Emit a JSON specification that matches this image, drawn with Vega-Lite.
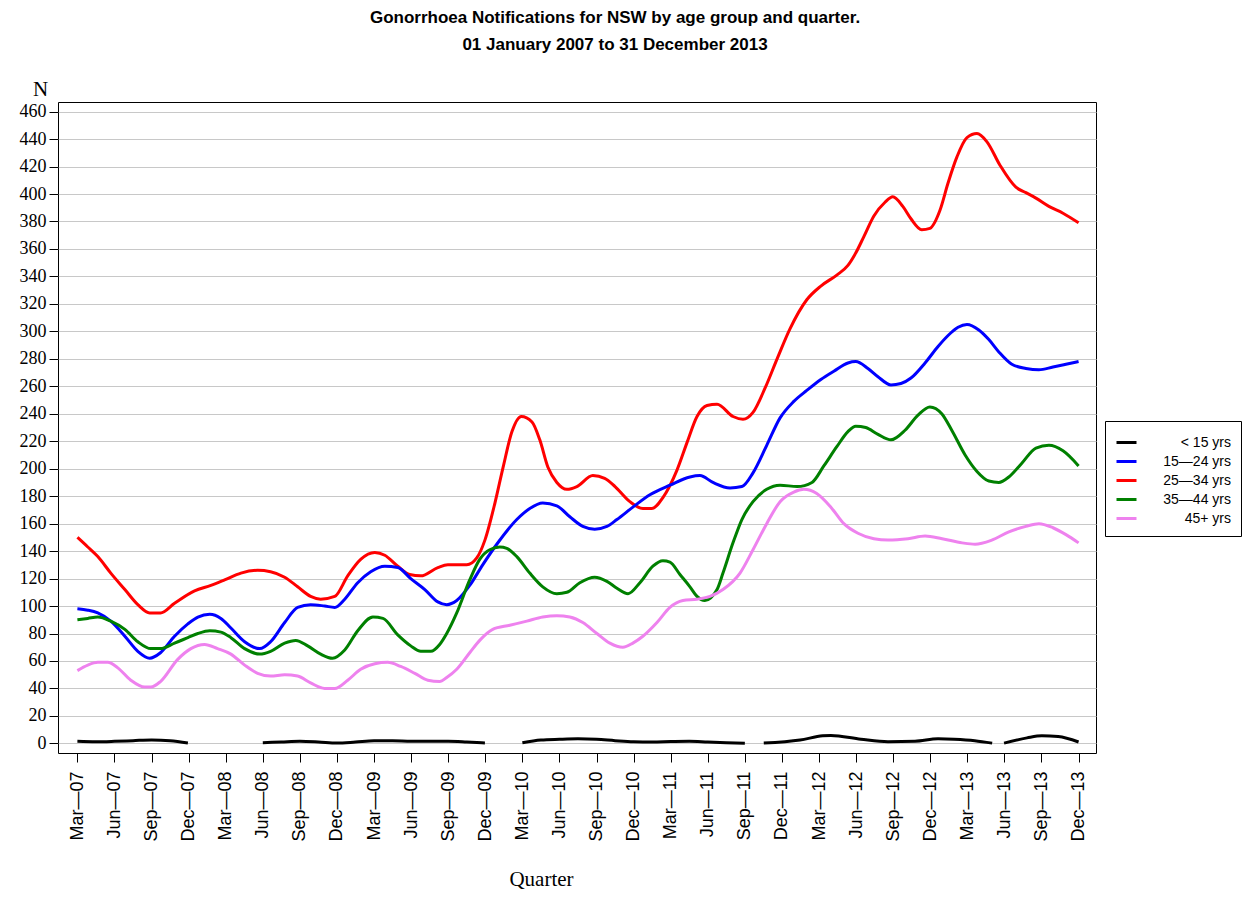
{
  "$schema": "https://vega.github.io/schema/vega-lite/v6.json",
  "width": 1038,
  "height": 651,
  "autosize": {"type": "none"},
  "padding": {"left": 58, "top": 102, "right": 152, "bottom": 147},
  "background": "white",
  "config": {"view": {"stroke": "#000", "strokeWidth": 1}, "font": "Liberation Sans"},
  "title": {
    "text": ["Gonorrhoea Notifications for NSW by age group and quarter.", "01 January 2007 to 31 December 2013"],
    "font": "Liberation Sans", "fontSize": 17, "fontWeight": "bold", "anchor": "middle",
    "dx": 38, "offset": 24, "lineHeight": 27, "color": "#000"
  },
  "data": {"values": [
    {"g":"25—34 yrs","q":0,"n":150},{"g":"25—34 yrs","q":0.28,"n":143},{"g":"25—34 yrs","q":0.55,"n":136},{"g":"25—34 yrs","q":0.9,"n":124},{"g":"25—34 yrs","q":1.28,"n":112},{"g":"25—34 yrs","q":1.63,"n":101},{"g":"25—34 yrs","q":1.95,"n":95},{"g":"25—34 yrs","q":2.24,"n":95},{"g":"25—34 yrs","q":2.62,"n":102},{"g":"25—34 yrs","q":3.16,"n":111},{"g":"25—34 yrs","q":3.6,"n":115},{"g":"25—34 yrs","q":3.97,"n":119},{"g":"25—34 yrs","q":4.41,"n":124},{"g":"25—34 yrs","q":4.86,"n":126},{"g":"25—34 yrs","q":5.21,"n":125},{"g":"25—34 yrs","q":5.59,"n":121},{"g":"25—34 yrs","q":5.94,"n":114},{"g":"25—34 yrs","q":6.29,"n":107},{"g":"25—34 yrs","q":6.56,"n":105},{"g":"25—34 yrs","q":6.94,"n":107},{"g":"25—34 yrs","q":7.29,"n":122},{"g":"25—34 yrs","q":7.64,"n":134},{"g":"25—34 yrs","q":8.02,"n":139},{"g":"25—34 yrs","q":8.29,"n":137},{"g":"25—34 yrs","q":8.64,"n":129},{"g":"25—34 yrs","q":8.96,"n":123},{"g":"25—34 yrs","q":9.26,"n":122},{"g":"25—34 yrs","q":9.72,"n":128},{"g":"25—34 yrs","q":9.99,"n":130},{"g":"25—34 yrs","q":10.5,"n":130},{"g":"25—34 yrs","q":10.77,"n":135},{"g":"25—34 yrs","q":10.99,"n":148},{"g":"25—34 yrs","q":11.26,"n":175},{"g":"25—34 yrs","q":11.48,"n":201},{"g":"25—34 yrs","q":11.72,"n":227},{"g":"25—34 yrs","q":11.97,"n":238},{"g":"25—34 yrs","q":12.26,"n":234},{"g":"25—34 yrs","q":12.47,"n":221},{"g":"25—34 yrs","q":12.69,"n":201},{"g":"25—34 yrs","q":12.93,"n":190},{"g":"25—34 yrs","q":13.2,"n":185},{"g":"25—34 yrs","q":13.47,"n":187},{"g":"25—34 yrs","q":13.9,"n":195},{"g":"25—34 yrs","q":14.22,"n":193},{"g":"25—34 yrs","q":14.5,"n":187},{"g":"25—34 yrs","q":14.9,"n":176},{"g":"25—34 yrs","q":15.25,"n":171},{"g":"25—34 yrs","q":15.49,"n":171},{"g":"25—34 yrs","q":15.79,"n":179},{"g":"25—34 yrs","q":16.17,"n":199},{"g":"25—34 yrs","q":16.44,"n":219},{"g":"25—34 yrs","q":16.71,"n":238},{"g":"25—34 yrs","q":16.98,"n":246},{"g":"25—34 yrs","q":17.25,"n":247},{"g":"25—34 yrs","q":17.68,"n":238},{"g":"25—34 yrs","q":17.95,"n":236},{"g":"25—34 yrs","q":18.22,"n":241},{"g":"25—34 yrs","q":18.55,"n":259},{"g":"25—34 yrs","q":18.87,"n":280},{"g":"25—34 yrs","q":19.22,"n":302},{"g":"25—34 yrs","q":19.67,"n":323},{"g":"25—34 yrs","q":20.05,"n":333},{"g":"25—34 yrs","q":20.48,"n":341},{"g":"25—34 yrs","q":20.78,"n":348},{"g":"25—34 yrs","q":20.99,"n":357},{"g":"25—34 yrs","q":21.21,"n":369},{"g":"25—34 yrs","q":21.48,"n":384},{"g":"25—34 yrs","q":21.78,"n":394},{"g":"25—34 yrs","q":21.99,"n":398},{"g":"25—34 yrs","q":22.26,"n":391},{"g":"25—34 yrs","q":22.48,"n":382},{"g":"25—34 yrs","q":22.77,"n":374},{"g":"25—34 yrs","q":22.99,"n":375},{"g":"25—34 yrs","q":23.26,"n":388},{"g":"25—34 yrs","q":23.48,"n":408},{"g":"25—34 yrs","q":23.72,"n":427},{"g":"25—34 yrs","q":23.99,"n":441},{"g":"25—34 yrs","q":24.26,"n":444},{"g":"25—34 yrs","q":24.53,"n":438},{"g":"25—34 yrs","q":24.88,"n":421},{"g":"25—34 yrs","q":25.31,"n":405},{"g":"25—34 yrs","q":25.58,"n":401},{"g":"25—34 yrs","q":25.85,"n":397},{"g":"25—34 yrs","q":26.2,"n":391},{"g":"25—34 yrs","q":26.58,"n":386},{"g":"25—34 yrs","q":27,"n":379},

    {"g":"15—24 yrs","q":0,"n":98},{"g":"15—24 yrs","q":0.28,"n":97},{"g":"15—24 yrs","q":0.55,"n":95},{"g":"15—24 yrs","q":0.9,"n":89},{"g":"15—24 yrs","q":1.28,"n":78},{"g":"15—24 yrs","q":1.63,"n":67},{"g":"15—24 yrs","q":1.95,"n":62},{"g":"15—24 yrs","q":2.24,"n":66},{"g":"15—24 yrs","q":2.62,"n":78},{"g":"15—24 yrs","q":2.98,"n":87},{"g":"15—24 yrs","q":3.25,"n":92},{"g":"15—24 yrs","q":3.57,"n":94},{"g":"15—24 yrs","q":3.87,"n":91},{"g":"15—24 yrs","q":4.14,"n":84},{"g":"15—24 yrs","q":4.51,"n":74},{"g":"15—24 yrs","q":4.92,"n":69},{"g":"15—24 yrs","q":5.21,"n":74},{"g":"15—24 yrs","q":5.59,"n":88},{"g":"15—24 yrs","q":5.94,"n":99},{"g":"15—24 yrs","q":6.29,"n":101},{"g":"15—24 yrs","q":6.67,"n":100},{"g":"15—24 yrs","q":6.94,"n":99},{"g":"15—24 yrs","q":7.21,"n":105},{"g":"15—24 yrs","q":7.56,"n":117},{"g":"15—24 yrs","q":7.91,"n":125},{"g":"15—24 yrs","q":8.29,"n":129},{"g":"15—24 yrs","q":8.64,"n":128},{"g":"15—24 yrs","q":8.99,"n":120},{"g":"15—24 yrs","q":9.37,"n":112},{"g":"15—24 yrs","q":9.72,"n":103},{"g":"15—24 yrs","q":9.96,"n":101},{"g":"15—24 yrs","q":10.23,"n":104},{"g":"15—24 yrs","q":10.58,"n":115},{"g":"15—24 yrs","q":10.93,"n":130},{"g":"15—24 yrs","q":11.31,"n":145},{"g":"15—24 yrs","q":11.85,"n":163},{"g":"15—24 yrs","q":12.2,"n":171},{"g":"15—24 yrs","q":12.55,"n":175},{"g":"15—24 yrs","q":12.93,"n":173},{"g":"15—24 yrs","q":13.28,"n":165},{"g":"15—24 yrs","q":13.63,"n":158},{"g":"15—24 yrs","q":13.95,"n":156},{"g":"15—24 yrs","q":14.28,"n":158},{"g":"15—24 yrs","q":14.55,"n":163},{"g":"15—24 yrs","q":14.98,"n":172},{"g":"15—24 yrs","q":15.44,"n":181},{"g":"15—24 yrs","q":15.98,"n":188},{"g":"15—24 yrs","q":16.52,"n":194},{"g":"15—24 yrs","q":16.79,"n":195},{"g":"15—24 yrs","q":17.14,"n":190},{"g":"15—24 yrs","q":17.6,"n":186},{"g":"15—24 yrs","q":17.92,"n":187},{"g":"15—24 yrs","q":18.22,"n":197},{"g":"15—24 yrs","q":18.59,"n":217},{"g":"15—24 yrs","q":18.95,"n":237},{"g":"15—24 yrs","q":19.32,"n":249},{"g":"15—24 yrs","q":19.67,"n":257},{"g":"15—24 yrs","q":20.05,"n":265},{"g":"15—24 yrs","q":20.4,"n":271},{"g":"15—24 yrs","q":20.78,"n":277},{"g":"15—24 yrs","q":20.99,"n":278},{"g":"15—24 yrs","q":21.32,"n":273},{"g":"15—24 yrs","q":21.59,"n":267},{"g":"15—24 yrs","q":21.94,"n":261},{"g":"15—24 yrs","q":22.21,"n":262},{"g":"15—24 yrs","q":22.48,"n":266},{"g":"15—24 yrs","q":22.86,"n":277},{"g":"15—24 yrs","q":23.21,"n":289},{"g":"15—24 yrs","q":23.48,"n":297},{"g":"15—24 yrs","q":23.75,"n":303},{"g":"15—24 yrs","q":23.99,"n":305},{"g":"15—24 yrs","q":24.31,"n":301},{"g":"15—24 yrs","q":24.58,"n":294},{"g":"15—24 yrs","q":24.85,"n":285},{"g":"15—24 yrs","q":25.2,"n":276},{"g":"15—24 yrs","q":25.58,"n":273},{"g":"15—24 yrs","q":25.93,"n":272},{"g":"15—24 yrs","q":26.31,"n":274},{"g":"15—24 yrs","q":26.66,"n":276},{"g":"15—24 yrs","q":27,"n":278},

    {"g":"35—44 yrs","q":0,"n":90},{"g":"35—44 yrs","q":0.28,"n":91},{"g":"35—44 yrs","q":0.55,"n":92},{"g":"35—44 yrs","q":0.9,"n":89},{"g":"35—44 yrs","q":1.28,"n":83},{"g":"35—44 yrs","q":1.63,"n":74},{"g":"35—44 yrs","q":1.98,"n":69},{"g":"35—44 yrs","q":2.24,"n":69},{"g":"35—44 yrs","q":2.62,"n":73},{"g":"35—44 yrs","q":2.98,"n":77},{"g":"35—44 yrs","q":3.25,"n":80},{"g":"35—44 yrs","q":3.57,"n":82},{"g":"35—44 yrs","q":3.87,"n":81},{"g":"35—44 yrs","q":4.14,"n":77},{"g":"35—44 yrs","q":4.51,"n":69},{"g":"35—44 yrs","q":4.92,"n":65},{"g":"35—44 yrs","q":5.21,"n":67},{"g":"35—44 yrs","q":5.59,"n":73},{"g":"35—44 yrs","q":5.89,"n":75},{"g":"35—44 yrs","q":6.21,"n":71},{"g":"35—44 yrs","q":6.56,"n":65},{"g":"35—44 yrs","q":6.88,"n":62},{"g":"35—44 yrs","q":7.21,"n":68},{"g":"35—44 yrs","q":7.56,"n":82},{"g":"35—44 yrs","q":7.97,"n":92},{"g":"35—44 yrs","q":8.24,"n":91},{"g":"35—44 yrs","q":8.64,"n":79},{"g":"35—44 yrs","q":8.99,"n":71},{"g":"35—44 yrs","q":9.26,"n":67},{"g":"35—44 yrs","q":9.53,"n":67},{"g":"35—44 yrs","q":9.77,"n":72},{"g":"35—44 yrs","q":9.96,"n":80},{"g":"35—44 yrs","q":10.23,"n":95},{"g":"35—44 yrs","q":10.58,"n":119},{"g":"35—44 yrs","q":10.85,"n":134},{"g":"35—44 yrs","q":11.12,"n":141},{"g":"35—44 yrs","q":11.39,"n":143},{"g":"35—44 yrs","q":11.58,"n":142},{"g":"35—44 yrs","q":11.85,"n":136},{"g":"35—44 yrs","q":12.2,"n":124},{"g":"35—44 yrs","q":12.55,"n":114},{"g":"35—44 yrs","q":12.93,"n":109},{"g":"35—44 yrs","q":13.2,"n":110},{"g":"35—44 yrs","q":13.55,"n":117},{"g":"35—44 yrs","q":13.95,"n":121},{"g":"35—44 yrs","q":14.28,"n":118},{"g":"35—44 yrs","q":14.55,"n":113},{"g":"35—44 yrs","q":14.85,"n":109},{"g":"35—44 yrs","q":15.17,"n":117},{"g":"35—44 yrs","q":15.52,"n":129},{"g":"35—44 yrs","q":15.79,"n":133},{"g":"35—44 yrs","q":15.98,"n":132},{"g":"35—44 yrs","q":16.25,"n":123},{"g":"35—44 yrs","q":16.52,"n":114},{"g":"35—44 yrs","q":16.71,"n":107},{"g":"35—44 yrs","q":16.92,"n":104},{"g":"35—44 yrs","q":17.25,"n":112},{"g":"35—44 yrs","q":17.41,"n":124},{"g":"35—44 yrs","q":17.68,"n":146},{"g":"35—44 yrs","q":17.92,"n":163},{"g":"35—44 yrs","q":18.22,"n":176},{"g":"35—44 yrs","q":18.59,"n":185},{"g":"35—44 yrs","q":18.95,"n":188},{"g":"35—44 yrs","q":19.41,"n":187},{"g":"35—44 yrs","q":19.81,"n":190},{"g":"35—44 yrs","q":20.13,"n":202},{"g":"35—44 yrs","q":20.48,"n":216},{"g":"35—44 yrs","q":20.78,"n":227},{"g":"35—44 yrs","q":20.99,"n":231},{"g":"35—44 yrs","q":21.26,"n":230},{"g":"35—44 yrs","q":21.59,"n":225},{"g":"35—44 yrs","q":21.94,"n":221},{"g":"35—44 yrs","q":22.32,"n":228},{"g":"35—44 yrs","q":22.67,"n":239},{"g":"35—44 yrs","q":22.99,"n":245},{"g":"35—44 yrs","q":23.31,"n":240},{"g":"35—44 yrs","q":23.58,"n":228},{"g":"35—44 yrs","q":23.94,"n":210},{"g":"35—44 yrs","q":24.26,"n":198},{"g":"35—44 yrs","q":24.58,"n":191},{"g":"35—44 yrs","q":24.85,"n":190},{"g":"35—44 yrs","q":25.12,"n":194},{"g":"35—44 yrs","q":25.47,"n":204},{"g":"35—44 yrs","q":25.85,"n":215},{"g":"35—44 yrs","q":26.2,"n":217},{"g":"35—44 yrs","q":26.58,"n":213},{"g":"35—44 yrs","q":27,"n":202},

    {"g":"45+ yrs","q":0,"n":53},{"g":"45+ yrs","q":0.28,"n":57},{"g":"45+ yrs","q":0.55,"n":59},{"g":"45+ yrs","q":0.82,"n":59},{"g":"45+ yrs","q":1.09,"n":55},{"g":"45+ yrs","q":1.44,"n":46},{"g":"45+ yrs","q":1.82,"n":41},{"g":"45+ yrs","q":1.98,"n":41},{"g":"45+ yrs","q":2.24,"n":45},{"g":"45+ yrs","q":2.7,"n":61},{"g":"45+ yrs","q":3.06,"n":69},{"g":"45+ yrs","q":3.43,"n":72},{"g":"45+ yrs","q":3.78,"n":69},{"g":"45+ yrs","q":4.14,"n":65},{"g":"45+ yrs","q":4.51,"n":57},{"g":"45+ yrs","q":4.86,"n":51},{"g":"45+ yrs","q":5.21,"n":49},{"g":"45+ yrs","q":5.59,"n":50},{"g":"45+ yrs","q":5.94,"n":49},{"g":"45+ yrs","q":6.29,"n":44},{"g":"45+ yrs","q":6.67,"n":40},{"g":"45+ yrs","q":6.94,"n":40},{"g":"45+ yrs","q":7.29,"n":46},{"g":"45+ yrs","q":7.64,"n":54},{"g":"45+ yrs","q":8.02,"n":58},{"g":"45+ yrs","q":8.37,"n":59},{"g":"45+ yrs","q":8.72,"n":56},{"g":"45+ yrs","q":9.1,"n":51},{"g":"45+ yrs","q":9.45,"n":46},{"g":"45+ yrs","q":9.77,"n":45},{"g":"45+ yrs","q":9.96,"n":48},{"g":"45+ yrs","q":10.23,"n":54},{"g":"45+ yrs","q":10.58,"n":66},{"g":"45+ yrs","q":10.85,"n":75},{"g":"45+ yrs","q":11.2,"n":83},{"g":"45+ yrs","q":11.66,"n":86},{"g":"45+ yrs","q":12.12,"n":89},{"g":"45+ yrs","q":12.55,"n":92},{"g":"45+ yrs","q":12.93,"n":93},{"g":"45+ yrs","q":13.28,"n":92},{"g":"45+ yrs","q":13.63,"n":88},{"g":"45+ yrs","q":14.01,"n":80},{"g":"45+ yrs","q":14.36,"n":73},{"g":"45+ yrs","q":14.71,"n":70},{"g":"45+ yrs","q":14.98,"n":73},{"g":"45+ yrs","q":15.25,"n":78},{"g":"45+ yrs","q":15.63,"n":88},{"g":"45+ yrs","q":15.98,"n":99},{"g":"45+ yrs","q":16.33,"n":104},{"g":"45+ yrs","q":16.71,"n":105},{"g":"45+ yrs","q":17.06,"n":107},{"g":"45+ yrs","q":17.41,"n":112},{"g":"45+ yrs","q":17.87,"n":124},{"g":"45+ yrs","q":18.22,"n":141},{"g":"45+ yrs","q":18.59,"n":160},{"g":"45+ yrs","q":18.95,"n":176},{"g":"45+ yrs","q":19.32,"n":183},{"g":"45+ yrs","q":19.59,"n":185},{"g":"45+ yrs","q":19.94,"n":182},{"g":"45+ yrs","q":20.32,"n":172},{"g":"45+ yrs","q":20.67,"n":160},{"g":"45+ yrs","q":21.05,"n":153},{"g":"45+ yrs","q":21.48,"n":149},{"g":"45+ yrs","q":21.86,"n":148},{"g":"45+ yrs","q":22.4,"n":149},{"g":"45+ yrs","q":22.86,"n":151},{"g":"45+ yrs","q":23.32,"n":149},{"g":"45+ yrs","q":23.86,"n":146},{"g":"45+ yrs","q":24.21,"n":145},{"g":"45+ yrs","q":24.66,"n":148},{"g":"45+ yrs","q":25.12,"n":154},{"g":"45+ yrs","q":25.58,"n":158},{"g":"45+ yrs","q":25.93,"n":160},{"g":"45+ yrs","q":26.31,"n":157},{"g":"45+ yrs","q":26.66,"n":152},{"g":"45+ yrs","q":27,"n":146},

    {"g":"< 15 yrs","q":0,"n":1.5},{"g":"< 15 yrs","q":0.5,"n":1.2},{"g":"< 15 yrs","q":1,"n":1.5},{"g":"< 15 yrs","q":1.5,"n":2},{"g":"< 15 yrs","q":2,"n":2.5},{"g":"< 15 yrs","q":2.5,"n":2},{"g":"< 15 yrs","q":2.98,"n":0.3},{"g":"< 15 yrs","q":4,"n":null},{"g":"< 15 yrs","q":5,"n":0.5},{"g":"< 15 yrs","q":5.5,"n":1},{"g":"< 15 yrs","q":6,"n":1.5},{"g":"< 15 yrs","q":6.5,"n":1},{"g":"< 15 yrs","q":7,"n":0.2},{"g":"< 15 yrs","q":7.5,"n":1},{"g":"< 15 yrs","q":8,"n":2},{"g":"< 15 yrs","q":8.5,"n":2},{"g":"< 15 yrs","q":9,"n":1.5},{"g":"< 15 yrs","q":9.5,"n":1.5},{"g":"< 15 yrs","q":10,"n":1.5},{"g":"< 15 yrs","q":10.5,"n":1},{"g":"< 15 yrs","q":10.99,"n":0.3},{"g":"< 15 yrs","q":11.5,"n":null},{"g":"< 15 yrs","q":12,"n":0.5},{"g":"< 15 yrs","q":12.5,"n":2.5},{"g":"< 15 yrs","q":13,"n":3},{"g":"< 15 yrs","q":13.5,"n":3.3},{"g":"< 15 yrs","q":14,"n":3},{"g":"< 15 yrs","q":14.5,"n":2},{"g":"< 15 yrs","q":15,"n":1.2},{"g":"< 15 yrs","q":15.5,"n":1},{"g":"< 15 yrs","q":16,"n":1.3},{"g":"< 15 yrs","q":16.5,"n":1.5},{"g":"< 15 yrs","q":17,"n":1},{"g":"< 15 yrs","q":17.5,"n":0.5},{"g":"< 15 yrs","q":18,"n":0.1},{"g":"< 15 yrs","q":18.25,"n":null},{"g":"< 15 yrs","q":18.51,"n":0.2},{"g":"< 15 yrs","q":19.49,"n":2.5},{"g":"< 15 yrs","q":20.1,"n":5.5},{"g":"< 15 yrs","q":20.32,"n":5.8},{"g":"< 15 yrs","q":21.13,"n":3},{"g":"< 15 yrs","q":21.86,"n":1.2},{"g":"< 15 yrs","q":22.59,"n":1.5},{"g":"< 15 yrs","q":23.21,"n":3.3},{"g":"< 15 yrs","q":23.64,"n":3},{"g":"< 15 yrs","q":24.2,"n":2},{"g":"< 15 yrs","q":24.67,"n":0.2},{"g":"< 15 yrs","q":24.83,"n":null},{"g":"< 15 yrs","q":24.99,"n":0.2},{"g":"< 15 yrs","q":25.61,"n":4},{"g":"< 15 yrs","q":26.01,"n":5.5},{"g":"< 15 yrs","q":26.45,"n":5},{"g":"< 15 yrs","q":27,"n":1}
  ]},
  "mark": {"type": "line", "strokeWidth": 3, "interpolate": "monotone"},
  "encoding": {
    "x": {
      "field": "q", "type": "quantitative",
      "scale": {"domain": [-0.523, 27.47], "nice": false, "zero": false},
      "axis": {
        "values": [0,1,2,3,4,5,6,7,8,9,10,11,12,13,14,15,16,17,18,19,20,21,22,23,24,25,26,27],
        "labelExpr": "['Mar','Jun','Sep','Dec'][datum.value % 4] + '—' + (datum.value < 12 ? '0' : '') + (7 + floor(datum.value / 4))",
        "labelAngle": -90, "labelFont": "Liberation Sans", "labelFontSize": 18, "labelColor": "#000",
        "labelPadding": 9, "tickSize": 9, "tickColor": "#000", "domain": false, "grid": false,
        "labelOverlap": false, "labelFlush": false, "labelBound": false,
        "title": "Quarter", "titleFont": "Liberation Serif", "titleFontSize": 21, "titleFontWeight": "normal",
        "titleColor": "#000", "titleX": 483, "titleY": 126, "titleAlign": "center", "titleBaseline": "middle"
      }
    },
    "y": {
      "field": "n", "type": "quantitative",
      "scale": {"domain": [-7, 467], "nice": false, "zero": false},
      "axis": {
        "values": [0,20,40,60,80,100,120,140,160,180,200,220,240,260,280,300,320,340,360,380,400,420,440,460],
        "labelFont": "Liberation Serif", "labelFontSize": 18, "labelColor": "#000", "labelPadding": 3,
        "tickSize": 9, "tickColor": "#000", "domain": false, "grid": true, "gridColor": "#c8c8c8", "gridWidth": 1,
        "labelOverlap": false, "labelFlush": false,
        "title": "N", "titleAngle": 0, "titleFont": "Liberation Serif", "titleFontSize": 21, "titleFontWeight": "normal",
        "titleColor": "#000", "titleX": -18, "titleY": -7, "titleAlign": "center", "titleBaseline": "alphabetic"
      }
    },
    "color": {
      "field": "g", "type": "nominal",
      "scale": {"domain": ["< 15 yrs", "15—24 yrs", "25—34 yrs", "35—44 yrs", "45+ yrs"], "range": ["#000000", "#0000ff", "#ff0000", "#008000", "#ee82ee"]},
      "legend": {
        "orient": "none", "legendX": 1047, "legendY": 319, "title": null,
        "strokeColor": "#000", "fillColor": "white", "padding": 10,
        "symbolType": "stroke", "symbolSize": 400, "symbolStrokeWidth": 3,
        "labelFont": "Liberation Sans", "labelFontSize": 14, "labelColor": "#000",
        "rowPadding": 0, "labelAlign": "right", "labelOffset": 93, "labelLimit": 200
      }
    }
  }
}
